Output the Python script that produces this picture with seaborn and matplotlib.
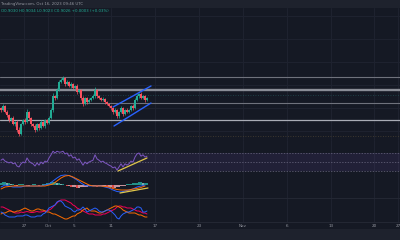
import numpy as np
import matplotlib
matplotlib.use("Agg")
import matplotlib.pyplot as plt
import seaborn as sns
from matplotlib.patches import Rectangle

sns.set_theme(style="dark")
plt.rcParams['font.family'] = ['DejaVu Sans']

# ---------------- data ----------------
first_open = 0.8996
close = [0.8990, 0.9002, 0.8984, 0.8975, 0.8960, 0.8966, 0.8948, 0.8954, 0.8930, 0.8918,
         0.8948, 0.8960, 0.8954, 0.8984, 0.8966, 0.8948, 0.8942, 0.8930, 0.8948, 0.8936,
         0.8954, 0.8942, 0.8960, 0.8951, 0.8966, 0.8990, 0.9032, 0.9026, 0.9050, 0.9074,
         0.9080, 0.9086, 0.9068, 0.9074, 0.9062, 0.9068, 0.9056, 0.9062, 0.9044, 0.9050,
         0.9026, 0.9008, 0.9026, 0.9014, 0.9020, 0.9026, 0.9032, 0.9050, 0.9032, 0.9026,
         0.9020, 0.9023, 0.9014, 0.9008, 0.9002, 0.8996, 0.8984, 0.8990, 0.8972, 0.8984,
         0.8996, 0.8978, 0.8990, 0.8984, 0.8990, 0.9002, 0.8996, 0.9020, 0.9032, 0.9038,
         0.9026, 0.9032, 0.9020, 0.9026]
wick_up_pips = [4, 6, 3, 5, 2, 4, 6, 3, 5, 8, 3, 4, 6, 9, 3, 4, 2, 5, 3, 4,
                5, 3, 4, 2, 6, 5, 8, 4, 6, 5, 7, 6, 4, 5, 3, 6, 4, 3, 5, 4,
                3, 6, 4, 3, 5, 4, 6, 9, 3, 4, 3, 5, 4, 3, 2, 4, 3, 5, 4, 3,
                6, 4, 3, 5, 3, 4, 5, 6, 7, 4, 5, 3, 4, 3]
wick_dn_pips = [5, 3, 4, 6, 5, 3, 4, 6, 5, 7, 4, 3, 5, 4, 6, 5, 4, 6, 3, 5,
                4, 3, 5, 4, 3, 4, 5, 6, 3, 4, 4, 3, 5, 4, 3, 5, 4, 3, 6, 4,
                5, 6, 3, 5, 4, 3, 4, 5, 6, 3, 4, 3, 5, 4, 3, 5, 6, 4, 7, 5,
                3, 6, 4, 3, 4, 3, 5, 4, 3, 5, 4, 3, 5, 4]
levels = [0.9090, 0.9050, 0.9010, 0.8960]
channel_upper_x = [56, 75]
channel_upper_y = [0.8999, 0.9062]
channel_lower_x = [56.5, 75]
channel_lower_y = [0.8942, 0.9011]
price_line = 0.9035

rsi = [54, 57, 52, 50, 48, 50, 46, 48, 41, 39,
       46, 50, 48, 59, 52, 48, 46, 41, 48, 43,
       50, 46, 52, 50, 59, 66, 74, 70, 74, 72,
       72, 74, 68, 70, 63, 66, 59, 61, 54, 57,
       50, 43, 50, 46, 50, 52, 54, 66, 57, 54,
       50, 52, 48, 46, 43, 41, 37, 39, 32, 39,
       46, 39, 46, 43, 46, 52, 50, 61, 68, 70,
       63, 66, 61, 63]
rsi_trend_x = [58.5, 73]
rsi_trend_y = [30, 59]

macd_idx = list(range(0, 74, 2))
macd_pips = [-2, 0, -1, -2, -2, -2, -1, -1, -1, -1, -1, 0, 1, 4, 7, 9.5, 10, 9.5, 7.5,
             5, 2, -0.5, -1, -1, -1, -1, -2, -3, -5, -6.5, -7, -6, -5, -4, -2, -1, 0]
signal_pips = [-4, -2, -1.5, -1, -1, -1, -1, -1, -1, -1, -1, -1, 0, 1, 4, 7, 9, 9.5, 8,
               6, 4, 2, 0, -1, -1, -1, -1.5, -2, -3.5, -4.5, -5, -5, -5, -4, -3.5, -2.5, -1]
hist_pips = [2, 3, 3, 2, 2, 1, 1, -1, -1, 1,
             1, 1, 0, -1, -1, 0, 1, 1, 0, -1, 0, 1, 1,
             2, 2, 3, 3, 3, 2, 2, 1,
             1, 0, -1, -1, -2, -2, -2, -3, -3, -2,
             -2, -2, -2, -1, -1, -1, -1, -2, -1, -1, -1, -1, -2, -2, -2,
             -3, -3, -2, -2, -1, -1, -1,
             1, 1, 1, 2, 2, 2, 3, 3, 2, 2, 2]
macd_trend_x = [59.5, 73.5]
macd_trend_y = [-8, -3]

di_plus = [20, 18, 14, 12, 10, 10, 10, 10, 12, 12,
           12, 12, 14, 14, 12, 10, 10, 10, 12, 12,
           12, 16, 18, 22, 28, 30, 32, 34, 40, 42,
           42, 38, 32, 30, 28, 26, 22, 20, 24, 24,
           26, 30, 26, 20, 22, 24, 26, 28, 26, 22,
           20, 20, 22, 24, 24, 22, 18, 14, 8, 6,
           12, 16, 18, 20, 20, 22, 24, 26, 30, 30,
           28, 20, 20, 22]
adx = [30, 30, 28, 26, 24, 22, 20, 18, 18, 18,
       20, 19, 20, 21, 20, 19, 19, 20, 21, 20,
       20, 21, 22, 22, 24, 26, 30, 34, 38, 42,
       44, 44, 44, 42, 40, 38, 34, 32, 28, 26,
       24, 22, 20, 18, 16, 16, 16, 14, 14, 14,
       14, 16, 16, 18, 20, 22, 24, 26, 30, 32,
       32, 30, 30, 28, 28, 28, 26, 24, 22, 22,
       20, 18, 18, 16]
di_minus = [16, 18, 18, 20, 22, 22, 20, 20, 22, 22,
            24, 26, 28, 26, 24, 22, 22, 24, 26, 26,
            24, 24, 22, 20, 20, 18, 16, 16, 14, 12,
            10, 8, 6, 6, 8, 10, 12, 12, 16, 18,
            20, 24, 26, 28, 24, 22, 22, 22, 20, 18,
            18, 20, 22, 24, 26, 28, 30, 32, 32, 30,
            28, 24, 22, 20, 18, 18, 18, 18, 16, 14,
            14, 12, 10, 10]

tick_pos = [11.5, 23.5, 36.5, 55, 77, 99, 121, 143, 165, 186.5, 198.5]
tick_labels = ["27", "Oct", "5", "11", "17", "23", "Nov", "6", "13", "20", "27"]

# ---------------- style ----------------
BG = "#151924"
BAR = "#1e222d"
GRID = "#1f2330"
GREEN = "#22ab94"
RED = "#f7525f"
W, H = 400, 240

fig = plt.figure(figsize=(4, 2.4), dpi=100)
fig.patch.set_facecolor(BG)


def add_pane(top, bottom):
    ax = fig.add_axes([0, (H - bottom) / H, 1, (bottom - top) / H])
    ax.set_facecolor(BG)
    for s in ax.spines.values():
        s.set_visible(False)
    ax.set_xlim(-0.5, 199.5)
    ax.set_xticks(tick_pos)
    ax.set_xticklabels([])
    ax.tick_params(length=0, labelbottom=False, labelleft=False, left=False, bottom=False)
    ax.grid(True, axis='x', color=GRID, lw=0.7)
    ax.grid(False, axis='y')
    return ax


# ---- main price pane ----
ax = add_pane(8, 140)
ax.set_ylim(0.8900, 0.9296)
ax.set_yticks([0.9272, 0.9203, 0.9134, 0.9065, 0.8996, 0.8927])
ax.set_yticklabels([])
ax.grid(True, axis='y', color=GRID, lw=0.7)

c = np.array(close)
o = np.concatenate([[first_open], c[:-1]])
idx = np.arange(len(c))
up = c >= o
cols = np.where(up, GREEN, RED)
hi = np.maximum(o, c) + np.array(wick_up_pips) * 1e-4
lo = np.minimum(o, c) - np.array(wick_dn_pips) * 1e-4
ax.vlines(idx, lo, hi, colors=cols, lw=0.5, zorder=3)
ax.bar(idx, np.maximum(np.abs(c - o), 0.00008), bottom=np.minimum(o, c), width=0.75,
       color=cols, linewidth=0, zorder=4)

lvl_styles = [("#6f727c", 0.8), ("#8a8d96", 1.7), ("#6f727c", 0.8), ("#a9acb5", 0.9)]
for lv, (col, lw) in zip(levels, lvl_styles):
    ax.axhline(lv, color=col, lw=lw, zorder=2)
ax.axhline(price_line, color="#1f4d4f", lw=0.6, ls=(0, (1, 2)), zorder=1)
ax.axhline(0.8912, color="#4a4231", lw=0.6, ls=(0, (1, 2)), zorder=1)
sns.lineplot(x=channel_upper_x, y=channel_upper_y, ax=ax, color="#2962ff", lw=1.0, zorder=5)
sns.lineplot(x=channel_lower_x, y=channel_lower_y, ax=ax, color="#2962ff", lw=1.0, zorder=5)

# ---- RSI pane ----
ax2 = add_pane(140, 172)
ax2.set_ylim(27.8, 98.9)
ax2.axhspan(30, 70, color="#7e57c2", alpha=0.12, lw=0)
for v in (70, 50, 30):
    ax2.axhline(v, color="#6a6880", lw=0.5, ls=(0, (2, 2)))
sns.lineplot(x=idx, y=rsi, ax=ax2, color="#7e57c2", lw=0.7)
sns.lineplot(x=rsi_trend_x, y=rsi_trend_y, ax=ax2, color="#e0c64a", lw=0.9)

# ---- MACD pane ----
ax3 = add_pane(172, 198)
ax3.set_ylim(-13, 13)
h = np.array(hist_pips, dtype=float)
prev = np.concatenate([[h[0]], h[:-1]])
hcols = np.where(h >= 0, np.where(h >= prev, "#26a69a", "#8fc9c2"),
                 np.where(h < prev, "#ff5252", "#e8a9b0"))
ax3.bar(idx, h, width=0.8, color=hcols, linewidth=0, alpha=0.85)
sns.lineplot(x=macd_idx, y=macd_pips, ax=ax3, color="#2962ff", lw=0.7)
sns.lineplot(x=macd_idx, y=signal_pips, ax=ax3, color="#ff6d00", lw=0.7)
sns.lineplot(x=macd_trend_x, y=macd_trend_y, ax=ax3, color="#e0c64a", lw=0.9)

# ---- DMI pane ----
ax4 = add_pane(198, 222)
ax4.set_ylim(0, 48)
sns.lineplot(x=idx, y=adx, ax=ax4, color="#f50057", lw=0.7)
sns.lineplot(x=idx, y=di_minus, ax=ax4, color="#ff6d00", lw=0.7)
sns.lineplot(x=idx, y=di_plus, ax=ax4, color="#2962ff", lw=0.7)
ax4.set_xticklabels(tick_labels)
ax4.tick_params(labelbottom=True, labelsize=3, colors="#9598a1", pad=1.6)

for a in (ax, ax2, ax3, ax4):
    a.set_xlabel("")
    a.set_ylabel("")
    leg = a.get_legend()
    if leg:
        leg.remove()

# separators and bars
for ypx in (198, 222):
    fig.add_artist(plt.Line2D([0, 1], [(H - ypx) / H] * 2, transform=fig.transFigure,
                              color="#262a36", lw=0.6))
fig.add_artist(Rectangle((0, (H - 8) / H), 1, 8 / H, transform=fig.transFigure,
                         color=BAR, lw=0, zorder=10))
fig.add_artist(Rectangle((0, 0), 1, 11 / H, transform=fig.transFigure,
                         color=BAR, lw=0, zorder=10))
fig.text(1 / W, 1 - 4 / H, "TradingView.com, Oct 16, 2023 09:46 UTC", ha="left",
         va="center", fontsize=2.8, color="#9598a1", zorder=11)
fig.text(1 / W, 1 - 11 / H, "O0.9030 H0.9034 L0.9023 C0.9026 +0.0003 (+0.03%)",
         ha="left", va="center", fontsize=2.8, color="#22ab94", zorder=11)

fig.savefig("out.png", dpi=100, facecolor=BG)
